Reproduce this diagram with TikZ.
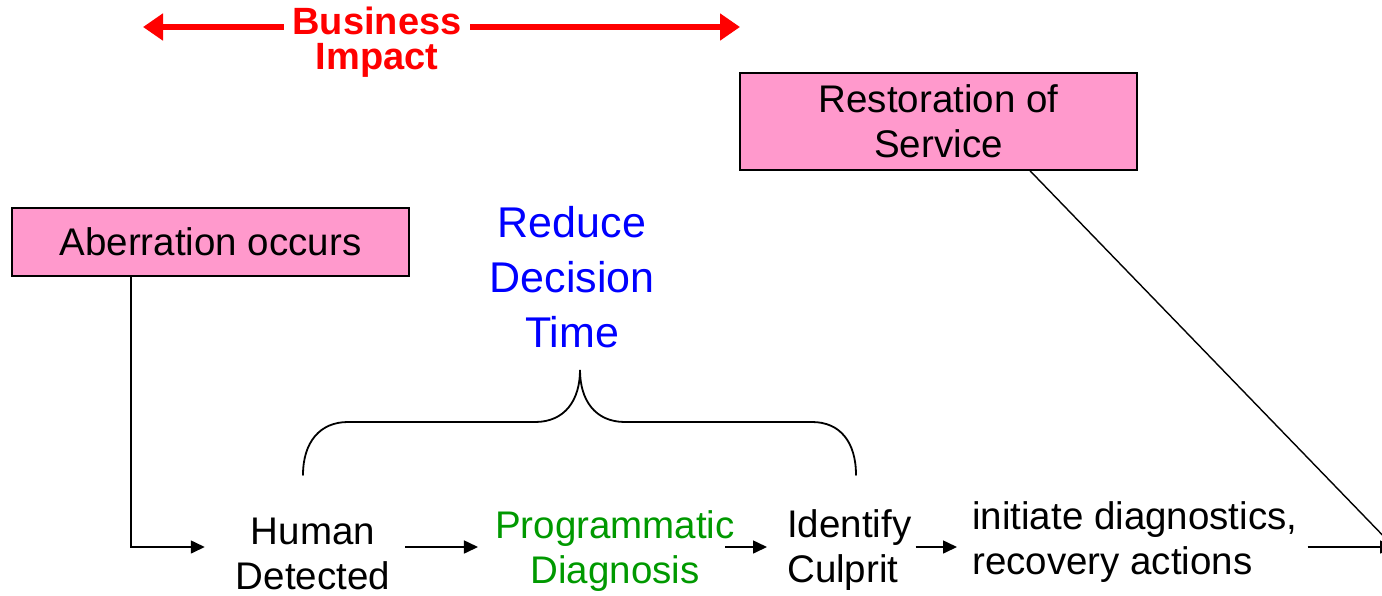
\documentclass[tikz,border=0pt]{standalone}
\usepackage{fontspec}
\setmainfont{Liberation Sans}
\usetikzlibrary{arrows.meta}

\definecolor{boxpink}{HTML}{FF99CC}
\definecolor{impactred}{HTML}{FF0000}
\definecolor{reduceblue}{HTML}{0000FF}
\definecolor{diaggreen}{HTML}{009900}

\tikzset{
  stagebox/.style={draw=black, line width=1.5pt, fill=boxpink, inner sep=0pt,
    align=center, font=\fontsize{38.5}{45}\selectfont},
  stagetext/.style={inner sep=0pt, font=\fontsize{38.5}{45}\selectfont},
  flow/.style={draw=black, line width=1.6pt, -{Triangle[length=14pt,width=13pt]}},
  plainline/.style={draw=black, line width=1.4pt},
  impact/.style={draw=impactred, line width=6.5pt,
    {Triangle[length=20pt,width=26pt]}-{Triangle[length=20pt,width=26pt]}},
  bracestyle/.style={draw=black, line width=1.8pt, line cap=round}
}

\begin{document}
\begin{tikzpicture}[x=1pt, y=-1pt]
  \useasboundingbox (0,0) rectangle (1382,595);
  \clip (0,0) rectangle (1382,595);

  % business impact span
  \coordinate (impL) at (143,27);
  \coordinate (impR) at (740,27);
  \draw[impact] (impL) -- (impR);
  \node[fill=white, inner xsep=9pt, inner ysep=2pt, align=center, text=impactred,
        font=\fontsize{38}{35}\selectfont\bfseries] (bi) at (377,42) {Business\\Impact};

  % boxes
  \node[stagebox, minimum width=397pt, minimum height=97pt] (rs) at (938.5,121.5)
       {Restoration of\\Service};
  \node[stagebox, minimum width=397pt, minimum height=68pt] (ab) at (210.5,242)
       {Aberration occurs};

  % goal label and brace
  \node[inner sep=0pt, align=center, text=reduceblue,
        font=\fontsize{43}{55}\selectfont] (rd) at (572,277) {Reduce\\Decision\\Time};
  \draw[bracestyle] (303,475) .. controls (303,442) and (320,422) .. (348,422)
    -- (535,422) .. controls (565,422) and (580,400) .. (580,370)
    .. controls (580,400) and (595,422) .. (625,422)
    -- (812,422) .. controls (840,422) and (856,442) .. (856,475);

  % process stages
  \node[stagetext, align=center] (hd) at (313,553.5) {Human\\Detected};
  \node[stagetext, align=center, text=diaggreen] (pd) at (615,551) {Programmatic\\Diagnosis};
  \node[stagetext, align=left, anchor=west] (ic) at (787,550) {Identify\\Culprit};
  \node[stagetext, align=left, anchor=west] (ia) at (972,542.5)
       {initiate diagnostics,\\recovery actions};
  \coordinate (fin) at (1394,547);

  % connectors
  \draw[flow] ([xshift=-79.5pt]ab.south) |- ([xshift=-31pt, yshift=6.5pt]hd.west);
  \draw[flow] ([xshift=15pt, yshift=6.5pt]hd.east) -- ([xshift=-17pt, yshift=4pt]pd.west);
  \draw[flow] ([xshift=-10pt, yshift=4pt]pd.east) -- ([xshift=-20pt, yshift=3pt]ic.west);
  \draw[flow] ([xshift=4pt, yshift=3pt]ic.east) -- ([xshift=-15pt, yshift=-4.5pt]ia.west);
  \draw[flow] ([xshift=10pt, yshift=-4.5pt]ia.east) -- (fin);
  \draw[plainline] ([xshift=91.5pt]rs.south) -- (fin);
\end{tikzpicture}
\end{document}
